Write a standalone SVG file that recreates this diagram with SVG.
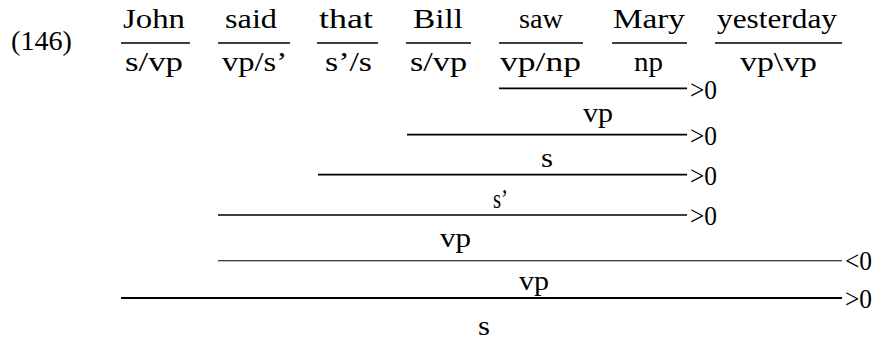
<svg xmlns="http://www.w3.org/2000/svg" width="875" height="341" viewBox="0 0 875 341">
<style>
text{font-family:"Liberation Serif","Times New Roman",serif;font-size:28px;fill:#000}
.rule{stroke:#000;stroke-width:1.7;fill:none}
.thin{stroke:#000;stroke-width:1.1;fill:none}
.thick{stroke:#000;stroke-width:2.2;fill:none}
</style>
<rect width="875" height="341" fill="#fff"/>
<text id="exnum" x="11" y="50" textLength="61" lengthAdjust="spacingAndGlyphs">(146)</text>
<g id="word-john">
<text x="123" y="28" textLength="62" lengthAdjust="spacingAndGlyphs">John</text>
<line class="rule" x1="121" y1="43" x2="190" y2="43"/>
<text x="125" y="71" textLength="58" lengthAdjust="spacingAndGlyphs">s/vp</text>
</g>
<g id="word-said">
<text x="225" y="28" textLength="52" lengthAdjust="spacingAndGlyphs">said</text>
<line class="rule" x1="218" y1="43" x2="290" y2="43"/>
<text x="222" y="71" textLength="65" lengthAdjust="spacingAndGlyphs">vp/s’</text>
</g>
<g id="word-that">
<text x="319" y="28" textLength="54" lengthAdjust="spacingAndGlyphs">that</text>
<line class="rule" x1="317" y1="43" x2="378" y2="43"/>
<text x="325" y="71" textLength="47" lengthAdjust="spacingAndGlyphs">s’/s</text>
</g>
<g id="word-bill">
<text x="413" y="28" textLength="50" lengthAdjust="spacingAndGlyphs">Bill</text>
<line class="rule" x1="406" y1="43" x2="471" y2="43"/>
<text x="410" y="71" textLength="57" lengthAdjust="spacingAndGlyphs">s/vp</text>
</g>
<g id="word-saw">
<text x="519" y="28" textLength="44" lengthAdjust="spacingAndGlyphs">saw</text>
<line class="rule" x1="499" y1="43" x2="583" y2="43"/>
<text x="500" y="71" textLength="81" lengthAdjust="spacingAndGlyphs">vp/np</text>
</g>
<g id="word-mary">
<text x="613" y="28" textLength="72" lengthAdjust="spacingAndGlyphs">Mary</text>
<line class="rule" x1="612" y1="43" x2="687" y2="43"/>
<text x="634" y="71" textLength="29" lengthAdjust="spacingAndGlyphs">np</text>
</g>
<g id="word-yesterday">
<text x="717" y="28" textLength="120" lengthAdjust="spacingAndGlyphs">yesterday</text>
<line class="rule" x1="715" y1="43" x2="842" y2="43"/>
<text x="740" y="71" textLength="77" lengthAdjust="spacingAndGlyphs">vp\vp</text>
</g>
<g id="derivation">
<g id="step1">
<line class="rule" x1="499" y1="88.3" x2="687" y2="88.3"/>
<text x="690" y="99" textLength="27" lengthAdjust="spacingAndGlyphs">&gt;0</text>
<text x="583" y="122" textLength="30" lengthAdjust="spacingAndGlyphs">vp</text>
</g>
<g id="step2">
<line class="rule" x1="407" y1="134.7" x2="687" y2="134.7"/>
<text x="690" y="145" textLength="27" lengthAdjust="spacingAndGlyphs">&gt;0</text>
<text x="541" y="166.7" textLength="12" lengthAdjust="spacingAndGlyphs">s</text>
</g>
<g id="step3">
<line class="rule" x1="318" y1="174.7" x2="687" y2="174.7"/>
<text x="690" y="185" textLength="27" lengthAdjust="spacingAndGlyphs">&gt;0</text>
<text x="493" y="208" textLength="15" lengthAdjust="spacingAndGlyphs">s’</text>
</g>
<g id="step4">
<line class="rule" x1="218" y1="215" x2="687" y2="215"/>
<text x="690" y="225" textLength="27" lengthAdjust="spacingAndGlyphs">&gt;0</text>
<text x="440" y="247" textLength="31" lengthAdjust="spacingAndGlyphs">vp</text>
</g>
<g id="step5">
<line class="thin" x1="218" y1="260.7" x2="842" y2="260.7"/>
<text x="845" y="270" textLength="27" lengthAdjust="spacingAndGlyphs">&lt;0</text>
<text x="519" y="290" textLength="30" lengthAdjust="spacingAndGlyphs">vp</text>
</g>
<g id="step6">
<line class="thick" x1="121" y1="298" x2="842" y2="298"/>
<text x="845" y="308" textLength="27" lengthAdjust="spacingAndGlyphs">&gt;0</text>
<text x="478" y="335" textLength="12" lengthAdjust="spacingAndGlyphs">s</text>
</g>
</g>
</svg>
